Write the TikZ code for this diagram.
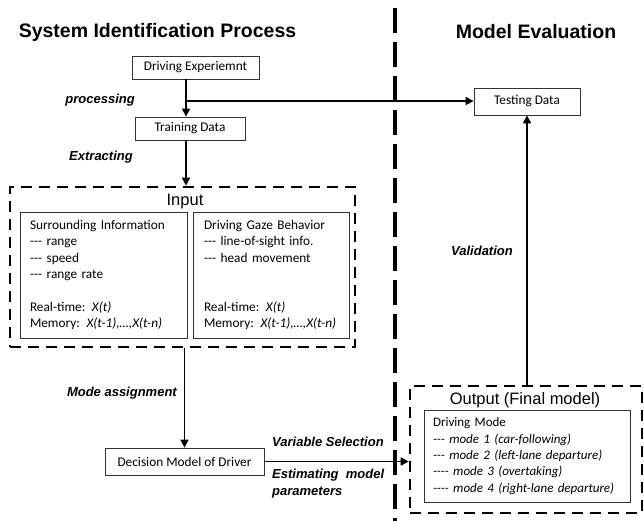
\documentclass[tikz,border=0pt]{standalone}
\usepackage{fontspec}
\setmainfont{Carlito}
\newfontfamily\arialfont{Liberation Sans}
\usetikzlibrary{arrows.meta}
\newcommand\tridash{\mbox{-}\mbox{-}\mbox{-}}
\newcommand\quaddash{\mbox{-}\mbox{-}\mbox{-}\mbox{-}}

\begin{document}
\begin{tikzpicture}[x=1pt,y=-1pt,
  every node/.style={font=\fontsize{13.3}{16.3}\selectfont},
  box/.style={draw=black!80,line width=0.8pt,inner sep=0pt},
  infobox/.style={box,align=left,inner xsep=10pt},
  dbox/.style={draw,line width=2.6pt,dash pattern=on 11pt off 7pt},
  divider/.style={line width=4pt,dash pattern=on 25pt off 9pt},
  arr/.style={line width=1.6pt,-{Triangle[length=8pt,width=8pt]}},
  title/.style={font=\arialfont\bfseries\fontsize{19.5}{22}\selectfont},
  head/.style={font=\arialfont\fontsize{16.5}{20}\selectfont},
  lbl/.style={inner sep=0pt,font=\arialfont\bfseries\itshape\fontsize{13}{17}\selectfont}]
  \useasboundingbox (0,0) rectangle (644,521);
  \node[title] (sip) at (157.5,32) {System Identification Process};
  \node[title] (mev) at (536,32) {Model Evaluation};
  \draw[divider] (395,8) -- (395,521);

  \node[box,minimum width=127pt,minimum height=23pt] (exp) at (195.5,67.5) {Driving Experiemnt};
  \node[box,minimum width=110pt,minimum height=23pt] (trn) at (190,128.5) {Training Data};
  \node[box,minimum width=106pt,minimum height=27pt] (tst) at (527,101.5) {Testing Data};
  \coordinate (fork) at (186,101);
  \draw[arr] (exp.south -| fork) -- (trn.north -| fork);
  \draw[arr] (fork) -- (tst.west |- fork);
  \node[lbl,anchor=east] (lprc) at (135,100) {processing};
  \node[lbl,anchor=east] (lext) at (133,157) {Extracting};

  \node[dbox,minimum width=345pt,minimum height=160pt] (inp) at (182.5,267) {};
  \node[head] (inlbl) at (185,202) {Input};
  \draw[arr] (trn.south -| fork) -- (inp.north -| fork);
  \node[infobox,text width=147pt,minimum height=126pt] (sur) at (103.5,275)
    {Surrounding Information\\ \tridash{} range\\ \tridash{} speed\\ \tridash{} range rate\\ ~\\
     Real-time: \textit{X(t)}\\ Memory: \textit{X(t-1),…,X(t-n)}};
  \node[infobox,text width=134pt,inner xsep=11pt,minimum height=126pt] (gaz) at (271,275)
    {Driving Gaze Behavior\\ \tridash{} line-of-sight info.\\ \tridash{} head movement\\ ~\\ ~\\
     Real-time: \textit{X(t)}\\ Memory: \textit{X(t-1),…,X(t-n)}};

  \node[box,minimum width=159pt,minimum height=27pt] (dec) at (184.5,461.5) {Decision Model of Driver};
  \draw[arr] (inp.south -| dec) -- (dec.north);
  \node[lbl,anchor=east] (lmod) at (177,393) {Mode assignment};

  \node[dbox,minimum width=232pt,minimum height=127pt] (out) at (526,449.5) {};
  \node[head] (outlbl) at (525,400) {Output (Final model)};
  \node[infobox,font=\fontsize{13}{16.3}\selectfont,text width=188pt,inner xsep=9pt,minimum height=92pt] (mode) at (527,456)
    {Driving Mode\\ \textit{\tridash{} mode 1 (car-following)}\\ \textit{\tridash{} mode 2 (left-lane departure)}\\
     \textit{\quaddash{} mode 3 (overtaking)}\\ \textit{\quaddash{} mode 4 (right-lane departure)}};
  \draw[arr] (dec.east) -- (dec.east -| out.west);
  \node[lbl,anchor=west] (lvar) at (272,442) {Variable Selection};
  \node[lbl,anchor=north west,align=left] (lest) at (272,469) {Estimating~ model\\parameters};

  \draw[arr] (out.north -| tst) -- (tst.south);
  \node[lbl,anchor=east] (lval) at (513,251) {Validation};
\end{tikzpicture}
\end{document}
